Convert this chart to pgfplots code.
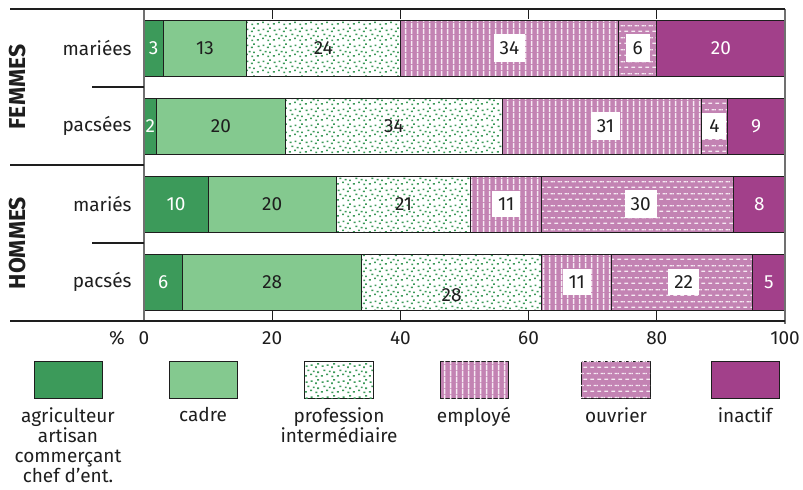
\documentclass[border=0pt]{standalone}
\usepackage{pgfplots}
\pgfplotsset{compat=1.18}
\usepackage{fontspec}
\setmainfont{Fira Sans}
\usetikzlibrary{patterns}
\definecolor{dgreen}{HTML}{3C9A5A}
\definecolor{lgreen}{HTML}{84C98F}
\definecolor{pinkc}{HTML}{C383B3}
\definecolor{inact}{HTML}{A2408A}
\definecolor{txt}{HTML}{1E1E1E}
\definecolor{stripe}{HTML}{F6EAF3}
\definecolor{spine}{HTML}{707070}

\pgfdeclarepatternformonly{vstripes}{\pgfqpoint{0pt}{0pt}}{\pgfqpoint{2.8pt}{2.8pt}}{\pgfqpoint{2.8pt}{2.8pt}}{%
  \pgfsetlinewidth{0.75pt}%
  \pgfpathmoveto{\pgfqpoint{1.4pt}{0pt}}\pgfpathlineto{\pgfqpoint{1.4pt}{2.8pt}}\pgfusepath{stroke}}
\pgfdeclarepatternformonly{hdashes}{\pgfqpoint{0pt}{0pt}}{\pgfqpoint{3.6pt}{6pt}}{\pgfqpoint{3.6pt}{6pt}}{%
  \pgfsetlinewidth{0.7pt}%
  \pgfpathmoveto{\pgfqpoint{0.2pt}{1.5pt}}\pgfpathlineto{\pgfqpoint{2.3pt}{1.5pt}}%
  \pgfpathmoveto{\pgfqpoint{2.0pt}{4.5pt}}\pgfpathlineto{\pgfqpoint{3.6pt}{4.5pt}}%
  \pgfpathmoveto{\pgfqpoint{0pt}{4.5pt}}\pgfpathlineto{\pgfqpoint{0.5pt}{4.5pt}}%
  \pgfusepath{stroke}}
\pgfdeclarepatternformonly{gdots}{\pgfqpoint{0pt}{0pt}}{\pgfqpoint{8pt}{8pt}}{\pgfqpoint{8pt}{8pt}}{%
  \pgfpathrectangle{\pgfqpoint{0.5pt}{0.7pt}}{\pgfqpoint{1.0pt}{0.8pt}}%
  \pgfpathrectangle{\pgfqpoint{3.2pt}{1.5pt}}{\pgfqpoint{1.0pt}{0.8pt}}%
  \pgfpathrectangle{\pgfqpoint{6.0pt}{0.4pt}}{\pgfqpoint{1.0pt}{0.8pt}}%
  \pgfpathrectangle{\pgfqpoint{1.8pt}{3.6pt}}{\pgfqpoint{1.0pt}{0.8pt}}%
  \pgfpathrectangle{\pgfqpoint{4.6pt}{3.0pt}}{\pgfqpoint{1.0pt}{0.8pt}}%
  \pgfpathrectangle{\pgfqpoint{6.9pt}{2.6pt}}{\pgfqpoint{1.0pt}{0.8pt}}%
  \pgfpathrectangle{\pgfqpoint{0.9pt}{5.8pt}}{\pgfqpoint{1.0pt}{0.8pt}}%
  \pgfpathrectangle{\pgfqpoint{3.5pt}{6.3pt}}{\pgfqpoint{1.0pt}{0.8pt}}%
  \pgfpathrectangle{\pgfqpoint{5.8pt}{5.2pt}}{\pgfqpoint{1.0pt}{0.8pt}}%
  \pgfpathrectangle{\pgfqpoint{6.9pt}{7.0pt}}{\pgfqpoint{1.0pt}{0.8pt}}%
  \pgfusepath{fill}}

\pgfplotsset{
  geom/.style={at={(72pt,-160.5pt)}, anchor=south west,
    width=320.5pt, height=156pt, scale only axis,
    xmin=0, xmax=100, ymin=-0.5, ymax=3.5},
  lbl/.style={only marks, mark=none, nodes near coords,
    point meta=explicit symbolic,
    nodes near coords style={anchor=center, font=\fontsize{9.5}{11}\selectfont}}
}

\begin{document}
\begin{tikzpicture}
\useasboundingbox (0,0) rectangle (401.5pt,-244.5pt);
\begin{axis}[geom,
  xbar stacked, bar width=0.718,
  xtick={0,20,...,100}, xticklabel pos=lower, xtick pos=both,
  tick align=inside, major tick length=5pt,
  x tick style={txt, line width=0.6pt},
  ytick={0,1,2,3}, yticklabels={pacsés,mariés,pacsées,mariées},
  y tick style={draw=none},
  axis line style={draw=none},
  tick label style={font=\fontsize{9.5}{11}\selectfont, text=txt},
  xticklabel style={yshift=-2pt},
  yticklabel style={inner sep=0pt, xshift=-6pt},
  /pgf/number format/assume math mode=true,
  every axis plot/.append style={draw=txt, line width=0.5pt},
]
\addplot[fill=dgreen] coordinates {(6,0) (10,1) (2,2) (3,3)};
\addplot[fill=lgreen] coordinates {(28,0) (20,1) (20,2) (13,3)};
\addplot[fill=white, postaction={pattern=gdots, pattern color=dgreen}] coordinates {(28,0) (21,1) (34,2) (24,3)};
\addplot[fill=pinkc, postaction={pattern=vstripes, pattern color=stripe}] coordinates {(11,0) (11,1) (31,2) (34,3)};
\addplot[fill=pinkc, postaction={pattern=hdashes, pattern color=stripe}] coordinates {(22,0) (30,1) (4,2) (6,3)};
\addplot[fill=inact] coordinates {(5,0) (8,1) (9,2) (20,3)};
\end{axis}
\begin{axis}[geom, hide axis]
\addplot[lbl, nodes near coords style={text=white}] coordinates {(1.5,3)[3] (1,2)[2] (5,1)[10] (3,0)[6] (90,3)[20] (95.5,2)[9] (96,1)[8] (97.5,0)[5]};
\addplot[lbl, nodes near coords style={text=txt}] coordinates {(9.5,3)[13] (12,2)[20] (20,1)[20] (20,0)[28] (28,3)[24] (39,2)[34] (40.5,1)[21] (48,-0.17)[28]};
\addplot[lbl, nodes near coords style={text=txt, fill=white, inner xsep=3pt, inner ysep=3.5pt, minimum width=12pt}] coordinates {(57,3)[34] (72,2)[31] (56.5,1)[11] (67.5,0)[11] (77,3)[6] (89,2)[4] (77.5,1)[30] (84.2,0)[22]};
\end{axis}
\begin{scope}[x=0.5pt,y=-0.5pt]
\draw[spine, line width=0.6pt] (144,9) -- (144,321);
\draw[spine, line width=0.6pt] (785,9) -- (785,324);
\draw[txt, line width=0.6pt] (10,9) -- (785,9);
\draw[txt, line width=0.6pt] (10,321) -- (785,321);
\draw[txt, line width=0.6pt] (10,165) -- (144,165);
\draw[txt, line width=0.6pt] (92,87) -- (144,87);
\draw[txt, line width=0.6pt] (92,243) -- (144,243);
\node[rotate=90, font=\fontsize{11.5}{13}\selectfont\bfseries, text=txt] at (18,87) {FEMMES};
\node[rotate=90, font=\fontsize{11.5}{13}\selectfont\bfseries, text=txt] at (18,243) {HOMMES};
\node[font=\fontsize{9.5}{11}\selectfont, text=txt] at (117,338) {\%};
% legend
\path[fill=dgreen, draw=txt, line width=0.5pt] (34,361) rectangle (102,398);
\path[fill=lgreen, draw=txt, line width=0.5pt] (169,361) rectangle (237,398);
\path[fill=white, draw=txt, line width=0.5pt, postaction={pattern=gdots, pattern color=dgreen}] (304,361) rectangle (373,398);
\path[fill=pinkc, draw=txt, line width=0.5pt, postaction={pattern=vstripes, pattern color=stripe}] (440,361) rectangle (508,398);
\path[fill=pinkc, draw=txt, line width=0.5pt, postaction={pattern=hdashes, pattern color=stripe}] (581,361) rectangle (650,398);
\path[fill=inact, draw=txt, line width=0.5pt] (711,361) rectangle (779,398);
\begin{scope}[every node/.style={anchor=north, align=center, inner sep=0pt, text=txt, font=\fontsize{9.5}{10.1}\selectfont}]
\node at (68,407) {agriculteur\\artisan\\commerçant\\chef d’ent.};
\node at (203,407) {cadre};
\node at (339,407) {profession\\intermédiaire};
\node at (474,407) {employé};
\node at (616,407) {ouvrier};
\node at (745,407) {inactif};
\end{scope}
\end{scope}
\end{tikzpicture}
\end{document}
